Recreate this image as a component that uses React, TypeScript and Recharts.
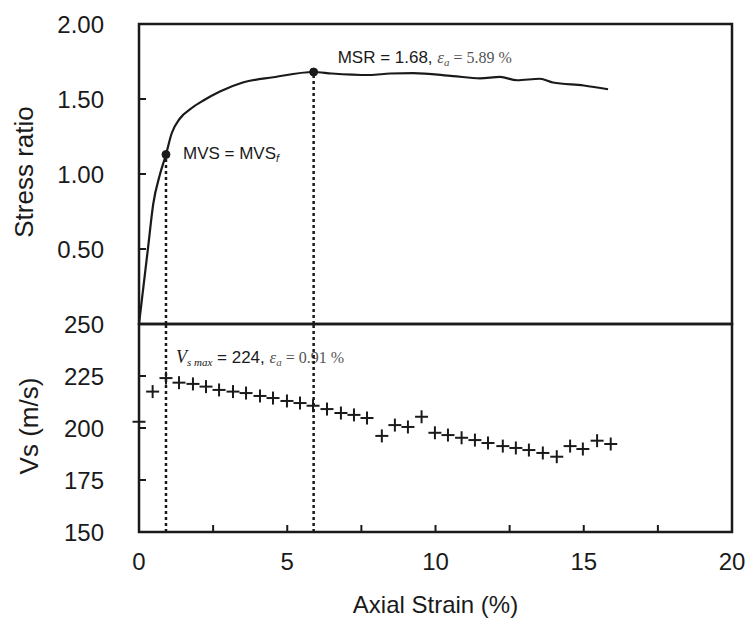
import {
  ComposedChart,
  Line,
  Scatter,
  XAxis,
  YAxis,
  ReferenceArea,
  ReferenceLine,
  ReferenceDot,
} from 'recharts';

const SANS = 'Liberation Sans, Arial, Helvetica, sans-serif';
const SERIF = 'Liberation Serif, Times New Roman, serif';
const INK = '#1a1a1a';

// axis ticks
const strainTicks = [0, 2.5, 5, 7.5, 10, 12.5, 15, 17.5, 20];
const ratioTicks = [0.5, 1.0, 1.5, 2.0];
const vsTicks = [150, 175, 200, 225, 250];

// stress ratio vs axial strain (%)
const curveStrain = [0, 0.3, 0.48, 0.71, 0.91, 1.1, 1.38, 1.78, 2.17, 2.73, 3.5, 4.53, 5.89, 6.5, 7.79, 8.47, 9.24, 10.59, 11.5, 12.18, 12.75, 13.52, 13.96, 15.0, 15.82];
const curveRatio = [0, 0.5, 0.8, 1.0, 1.13, 1.27, 1.37, 1.44, 1.49, 1.55, 1.61, 1.645, 1.68, 1.67, 1.66, 1.67, 1.673, 1.653, 1.638, 1.647, 1.625, 1.635, 1.61, 1.59, 1.565];

// shear wave velocity readings
const vsStrain = [0, 0.46, 0.91, 1.35, 1.82, 2.26, 2.7, 3.17, 3.61, 4.08, 4.52, 4.99, 5.43, 5.87, 6.34, 6.81, 7.25, 7.69, 8.19, 8.63, 9.07, 9.53, 9.98, 10.42, 10.88, 11.33, 11.77, 12.27, 12.71, 13.15, 13.62, 14.09, 14.54, 14.97, 15.45, 15.91];
const vsValues = [203, 217.5, 224, 221.8, 221.2, 219.9, 218.3, 217.5, 216.8, 215.4, 214.4, 213, 212, 210.7, 209.1, 207.2, 206.3, 204.8, 196.2, 201.4, 200.5, 205.4, 197.7, 196.6, 195.3, 194.2, 192.8, 191.3, 190.4, 189.4, 188, 186.2, 191.3, 189.9, 193.9, 192.3];

// key points
const mvs = { strain: 0.91, ratio: 1.13 };
const msr = { strain: 5.89, ratio: 1.68 };
const vsMax = { strain: 0.91, vs: 224 };

const curveData = curveStrain.map((s, i) => ({ strain: s, ratio: curveRatio[i] }));
const vsData = vsStrain.map((s, i) => ({ strain: s, vs: vsValues[i] }));

const tickStyle = { fontSize: 24, fill: INK, fontFamily: SANS };

function PlusMark(props: any) {
  const { cx, cy } = props;
  if (cx == null || cy == null) return null;
  const h = 6.5;
  return (
    <g stroke={INK} strokeWidth={2}>
      <line x1={cx - h} y1={cy} x2={cx + h} y2={cy} />
      <line x1={cx} y1={cy - h} x2={cx} y2={cy + h} />
    </g>
  );
}

function yTitle(text: string, x: number) {
  return (props: any) => {
    const vb = props.viewBox;
    const y = vb.y + vb.height / 2 - 2;
    return (
      <text
        x={x}
        y={y}
        transform={`rotate(-90 ${x} ${y})`}
        textAnchor="middle"
        fontFamily={SANS}
        fontSize={26}
        fill={INK}
      >
        {text}
      </text>
    );
  };
}

function xTitle(props: any) {
  const vb = props.viewBox;
  return (
    <text x={vb.x + vb.width / 2} y={vb.y + 81} textAnchor="middle" fontFamily={SANS} fontSize={24} fill={INK}>
      Axial Strain (%)
    </text>
  );
}

function MvsLabel(props: any) {
  const vb = props.viewBox;
  const cx = vb.x + vb.width / 2;
  const cy = vb.y + vb.height / 2;
  return (
    <text x={cx + 17} y={cy + 4} fontFamily={SANS} fontSize={17} fill={INK}>
      MVS = MVS
      <tspan fontSize={11} fontStyle="italic" dy={3}>f</tspan>
    </text>
  );
}

function MsrLabel(props: any) {
  const vb = props.viewBox;
  const cx = vb.x + vb.width / 2;
  const cy = vb.y + vb.height / 2;
  return (
    <text x={cx + 24} y={cy - 9} fontFamily={SANS} fontSize={17} fill={INK}>
      MSR = 1.68,{' '}
      <tspan fontFamily={SERIF} fontStyle="italic" fill="#555">ε</tspan>
      <tspan fontFamily={SERIF} fontStyle="italic" fontSize={11} dy={3} fill="#555">a</tspan>
      <tspan fontFamily={SERIF} fontSize={16} dy={-3} fill="#555"> = 5.89 %</tspan>
    </text>
  );
}

function VsMaxLabel(props: any) {
  const vb = props.viewBox;
  return (
    <text x={vb.x + 10} y={vb.y + 39} fontFamily={SANS} fontSize={17} fill={INK}>
      <tspan fontFamily={SERIF} fontStyle="italic" fontSize={18}>V</tspan>
      <tspan fontFamily={SERIF} fontStyle="italic" fontSize={11} dy={3}>s max</tspan>
      <tspan dy={-3}> = 224, </tspan>
      <tspan fontFamily={SERIF} fontStyle="italic" fill="#555">ε</tspan>
      <tspan fontFamily={SERIF} fontStyle="italic" fontSize={11} dy={3} fill="#555">a</tspan>
      <tspan fontFamily={SERIF} fontSize={16} dy={-3} fill="#555"> = 0.91 %</tspan>
    </text>
  );
}

const dotted = { stroke: INK, strokeWidth: 2.5, strokeDasharray: '3 3' };

export default function App() {
  return (
    <div style={{ position: 'absolute', left: 0, top: 0, width: 751, height: 622, background: '#fff' }}>
      <div style={{ position: 'absolute', left: 0, top: 0 }}>
        <ComposedChart width={751} height={331} data={curveData} margin={{ top: 24, right: 19, bottom: 7, left: 0 }}>
          <XAxis
            type="number"
            dataKey="strain"
            domain={[0, 20]}
            ticks={strainTicks}
            height={0}
            axisLine={false}
            stroke={INK}
            tickLine={{ strokeWidth: 2 }}
            tickSize={-7}
            tickFormatter={() => ''}
          />
          <YAxis
            type="number"
            domain={[0, 2]}
            ticks={ratioTicks}
            width={139}
            axisLine={false}
            stroke={INK}
            tickLine={{ strokeWidth: 2 }}
            tickSize={-7}
            tickMargin={42}
            tick={tickStyle}
            tickFormatter={(v: number) => v.toFixed(2)}
            label={{ content: yTitle('Stress ratio', 33) }}
          />
          <ReferenceArea x1={0} x2={20} y1={0} y2={2} fill="none" stroke={INK} strokeWidth={2.5} ifOverflow="visible" />
          <ReferenceLine segment={[{ x: mvs.strain, y: 0 }, { x: mvs.strain, y: mvs.ratio }]} {...dotted} />
          <ReferenceLine segment={[{ x: msr.strain, y: 0 }, { x: msr.strain, y: msr.ratio }]} {...dotted} />
          <Line
            type="monotone"
            dataKey="ratio"
            stroke={INK}
            strokeWidth={2.2}
            dot={false}
            activeDot={false}
            isAnimationActive={false}
          />
          <ReferenceDot x={mvs.strain} y={mvs.ratio} r={4} fill={INK} stroke={INK} label={{ content: MvsLabel }} />
          <ReferenceDot x={msr.strain} y={msr.ratio} r={4} fill={INK} stroke={INK} label={{ content: MsrLabel }} />
        </ComposedChart>
      </div>
      <div style={{ position: 'absolute', left: 0, top: 300 }}>
        <ComposedChart width={751} height={322} data={vsData} margin={{ top: 24, right: 19, bottom: 30, left: 0 }}>
          <XAxis
            type="number"
            dataKey="strain"
            domain={[0, 20]}
            ticks={strainTicks}
            height={60}
            axisLine={false}
            stroke={INK}
            tickLine={{ strokeWidth: 2 }}
            tickSize={-7}
            tickMargin={28}
            tick={tickStyle}
            tickFormatter={(v: number) => (v % 5 === 0 ? String(v) : '')}
            label={{ content: xTitle }}
          />
          <YAxis
            type="number"
            dataKey="vs"
            domain={[150, 250]}
            ticks={vsTicks}
            width={139}
            axisLine={false}
            stroke={INK}
            tickLine={{ strokeWidth: 2 }}
            tickSize={-7}
            tickMargin={42}
            tick={tickStyle}
            label={{ content: yTitle('Vs (m/s)', 38) }}
          />
          <ReferenceArea x1={0} x2={20} y1={150} y2={250} fill="none" stroke={INK} strokeWidth={2.5} ifOverflow="visible" />
          <ReferenceLine x={vsMax.strain} {...dotted} label={{ content: VsMaxLabel }} />
          <ReferenceLine x={msr.strain} {...dotted} />
          <Scatter data={vsData} shape={(p: any) => <PlusMark {...p} />} isAnimationActive={false} />
        </ComposedChart>
      </div>
    </div>
  );
}
